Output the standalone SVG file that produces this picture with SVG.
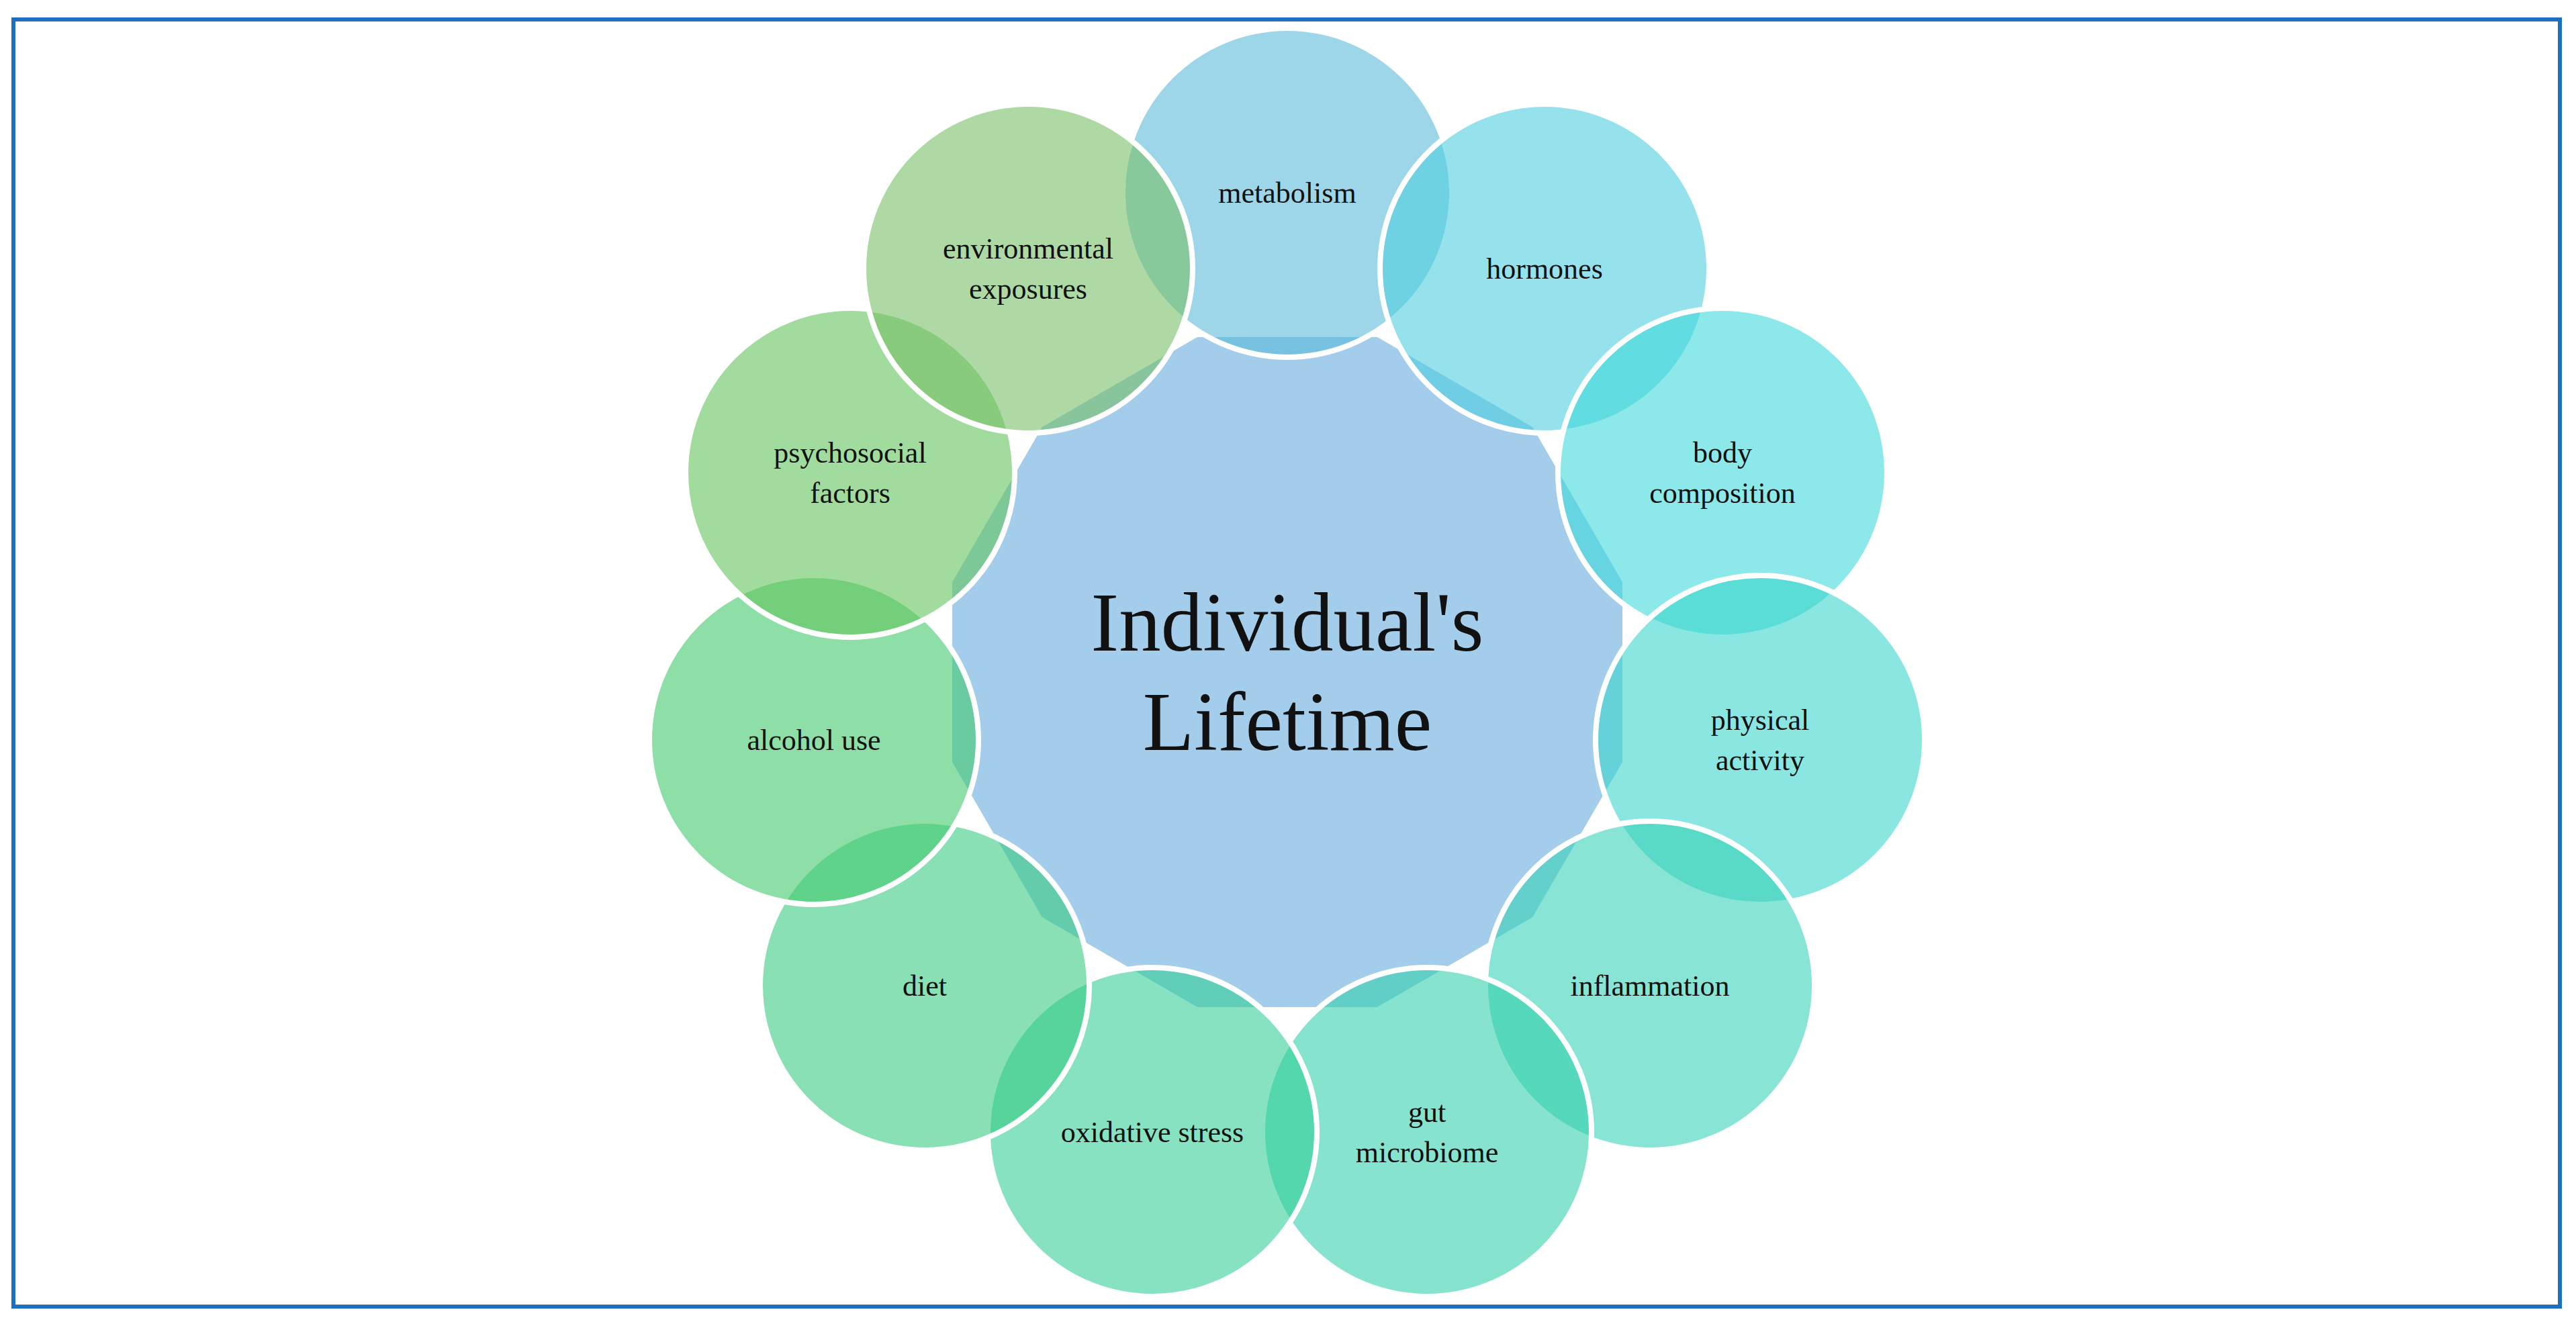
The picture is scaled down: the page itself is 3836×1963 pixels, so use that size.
<svg xmlns="http://www.w3.org/2000/svg" width="3836" height="1963" viewBox="0 0 3836 1963">
<style>
.c{stroke:#fff;stroke-width:8;fill-opacity:0.6}
.t{font-family:"Liberation Serif",serif;font-size:44px;fill:#111;text-anchor:middle}
.big{font-family:"Liberation Serif",serif;font-size:125px;fill:#111;text-anchor:middle}
</style>
<rect x="0" y="0" width="3836" height="1963" fill="#fff"/>
<rect x="20" y="29" width="3792" height="1917" fill="none" stroke="#1F6FC0" stroke-width="6"/>
<g id="center">
<polygon points="2420,866 2285,1369 1782,1504 1414,1136 1549,633 2052,498" fill="none"/>
<polygon fill="#A3CDEB" stroke="#fff" stroke-width="8" points="2420,866 2420,1136 2285,1369 2052,1504 1782,1504 1549,1369 1414,1136 1414,866 1549,633 1782,498 2052,498 2285,633" transform="translate(0,0)"/>
<text class="big" x="1917" y="969">Individual's</text>
<text class="big" x="1917" y="1117">Lifetime</text>
</g>
<g id="metabolism"><circle class="c" cx="1917" cy="287" r="245" fill="#5BBBDB"/><text class="t" x="1917" y="302">metabolism</text></g>
<g id="hormones"><circle class="c" cx="2300" cy="400" r="245" fill="#4FCFDF"/><text class="t" x="2300" y="415">hormones</text></g>
<g id="body"><circle class="c" cx="2565" cy="704" r="245" fill="#3FD9DB"/><text class="t" x="2565" y="689">body</text><text class="t" x="2565" y="749">composition</text></g>
<g id="physical"><circle class="c" cx="2621" cy="1102" r="245" fill="#3AD6CC"/><text class="t" x="2621" y="1087">physical</text><text class="t" x="2621" y="1147">activity</text></g>
<g id="inflammation"><circle class="c" cx="2457" cy="1468" r="245" fill="#38D2B8"/><text class="t" x="2457" y="1483">inflammation</text></g>
<g id="gut"><circle class="c" cx="2125" cy="1686" r="245" fill="#36D0AE"/><text class="t" x="2125" y="1671">gut</text><text class="t" x="2125" y="1731">microbiome</text></g>
<g id="oxidative"><circle class="c" cx="1716" cy="1686" r="245" fill="#36CE98"/><text class="t" x="1716" y="1701">oxidative stress</text></g>
<g id="diet"><circle class="c" cx="1377" cy="1468" r="245" fill="#38CC82"/><text class="t" x="1377" y="1483">diet</text></g>
<g id="alcohol"><circle class="c" cx="1212" cy="1102" r="245" fill="#42CA6C"/><text class="t" x="1212" y="1117">alcohol use</text></g>
<g id="psychosocial"><circle class="c" cx="1266" cy="704" r="245" fill="#62C45E"/><text class="t" x="1266" y="689">psychosocial</text><text class="t" x="1266" y="749">factors</text></g>
<g id="environmental"><circle class="c" cx="1531" cy="400" r="245" fill="#78C068"/><text class="t" x="1531" y="385">environmental</text><text class="t" x="1531" y="445">exposures</text></g>
<g id="connectors"/>
</svg>
